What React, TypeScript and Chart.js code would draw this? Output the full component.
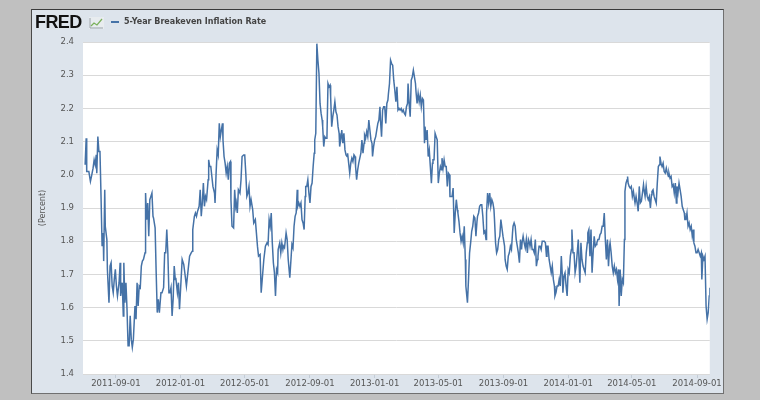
import React, { useEffect, useRef } from "react";
import { Chart, registerables } from "chart.js";

Chart.register(...registerables);

const START_DATE = "2011-07-01";
const SERIES_LABEL = "5-Year Breakeven Inflation Rate";
const Y_TITLE = "(Percent)";
const xTickLabels = [
  "2011-09-01", "2012-01-01", "2012-05-01", "2012-09-01", "2013-01-01",
  "2013-05-01", "2013-09-01", "2014-01-01", "2014-05-01", "2014-09-01",
];
const yMin = 1.4;
const yMax = 2.4;
const yStep = 0.1;

// days since START_DATE
const dayOffsets = [
  4, 6, 7, 11, 14, 16, 19, 21, 23, 25,
  26, 28, 30, 32, 34, 36, 38, 39, 41, 42,
  45, 46, 49, 51, 53, 55, 57, 59, 61, 63,
  65, 68, 70, 71, 74, 76, 77, 79, 81, 83,
  85, 87, 89, 91, 93, 95, 98, 100, 102, 104,
  106, 108, 110, 112, 114, 117, 118, 120, 122, 124,
  126, 128, 130, 132, 133, 136, 138, 140, 142, 144,
  147, 149, 152, 154, 156, 158, 160, 162, 164, 166,
  168, 170, 172, 174, 175, 178, 180, 182, 187, 190,
  192,
  195, 199, 201, 204, 206, 207, 210, 212, 214, 216,
  217, 219, 221, 223, 225, 227, 229, 231, 233, 236,
  237, 239, 241, 243, 245, 248, 249, 251, 253, 255,
  257, 259, 261, 263, 264, 266, 268, 270, 272, 274,
  276, 278, 279, 281, 284, 286, 288, 289, 291, 293,
  296, 298, 300, 303, 305, 307, 309, 311, 313, 315,
  317, 320, 322, 325, 327, 329, 331, 334, 336, 339,
  341, 344, 347, 349, 351, 353, 355, 357, 359, 361,
  363, 365, 367, 368, 371, 373, 375, 377, 378, 380,
  383, 385, 387, 390,
  394, 396, 398, 400, 402, 404, 405, 407, 409, 411,
  413, 415, 417, 419, 420, 422, 424, 426, 428, 430,
  432, 434, 436, 437, 439, 441, 443, 445, 447, 449,
  451, 452, 454, 456, 458, 460, 462, 464, 466, 467,
  469, 471, 473, 475, 477, 479, 481, 483, 484, 486,
  488, 490, 492, 494, 496, 498, 499, 501, 503, 505,
  507, 509, 511, 513, 514, 516, 518, 520, 522, 524,
  526, 528, 530, 531, 533, 535, 537, 539, 541, 543,
  545, 546, 548, 550, 552, 554, 556, 558, 560, 561,
  563, 565, 567, 569, 571, 573, 575, 576, 578, 580,
  582, 584, 586, 588,
  590, 592, 594, 596, 598, 600, 602, 604, 606, 608,
  610, 612, 613, 615, 617, 619, 621, 623, 625, 627,
  628, 630, 632, 634, 636, 638, 640, 642, 644, 645,
  647, 649, 651, 653, 655, 657, 659, 660, 662, 664,
  666, 668, 670, 672, 674, 676, 677, 679, 681, 683,
  685, 687, 689, 691, 692, 694, 696, 698, 700, 702,
  704, 706, 707, 709, 711, 713, 715, 717, 719, 721,
  722, 725, 727, 729, 731, 733, 735, 737, 739, 741,
  743, 744, 746, 748, 750, 752, 754, 756, 758, 760,
  761, 763, 765, 767, 769, 771, 773, 775, 776, 778,
  780, 782, 784, 786,
  788, 792, 795, 796, 798, 800, 802, 804, 806, 808,
  810, 811, 813, 815, 817, 819, 821, 823, 825, 827,
  828, 830, 832, 834, 836, 838, 840, 842, 843, 845,
  847, 849, 851, 853, 855, 857, 858, 860, 862, 864,
  866, 868, 870, 872, 874, 875, 877, 879, 881, 883,
  885, 887, 889, 890, 892, 894, 896, 898, 900, 902,
  904, 905, 907, 909, 911, 913, 915, 917, 919, 921,
  922, 924, 926, 928, 930, 932, 934, 936, 937, 939,
  941, 943, 945, 947, 949, 951, 952, 954, 956, 958,
  960, 962, 964, 966, 968, 969, 971, 973, 975, 977,
  979, 981, 983,
  985, 987, 989, 991, 993, 994, 996, 998, 1000, 1002,
  1004, 1006, 1008, 1010, 1011, 1013, 1015, 1017, 1019, 1021,
  1022, 1024, 1026, 1027, 1028, 1030, 1032, 1034, 1036, 1038,
  1040, 1041, 1043, 1045, 1047, 1049, 1051, 1053, 1055, 1057,
  1058, 1060, 1062, 1064, 1066, 1068, 1070, 1072, 1073, 1075,
  1077, 1079, 1081, 1083, 1085, 1087, 1088, 1090, 1092, 1094,
  1096, 1098, 1100, 1102, 1104, 1105, 1107, 1109, 1111, 1113,
  1115, 1117, 1119, 1120, 1122, 1124, 1126, 1128, 1130, 1132,
  1134, 1135, 1137, 1139, 1141, 1143, 1145, 1147, 1149, 1151,
  1152, 1154, 1156, 1158, 1160, 1162, 1164, 1166, 1167, 1169,
  1171, 1173, 1175, 1177, 1179, 1181, 1182,
];

// percent
const values = [
  2.03, 2.11, 2.01, 2.01, 1.98, 1.995, 2.02, 2.045, 2.03, 2.06,
  2.005, 2.115, 2.07, 2.07, 1.935, 1.785, 1.825, 1.74, 1.955, 1.845,
  1.805, 1.715, 1.615, 1.725, 1.735, 1.665, 1.645, 1.685, 1.715, 1.665,
  1.635, 1.675, 1.735, 1.635, 1.675, 1.575, 1.735, 1.615, 1.675, 1.595,
  1.485, 1.485, 1.575, 1.505, 1.48, 1.505, 1.605, 1.565, 1.675, 1.605,
  1.665, 1.66, 1.725, 1.74, 1.745, 1.765, 1.945, 1.865, 1.915, 1.815,
  1.925, 1.935, 1.945, 1.875, 1.87, 1.84, 1.705, 1.585, 1.625, 1.585,
  1.645, 1.645, 1.66, 1.765, 1.765, 1.835, 1.765, 1.645, 1.645, 1.66,
  1.575, 1.625, 1.725, 1.685, 1.69, 1.645, 1.675, 1.595, 1.745, 1.73,
  1.705,
  1.665, 1.725, 1.755, 1.765, 1.77, 1.835, 1.875, 1.885, 1.875, 1.89,
  1.895, 1.905, 1.955, 1.875, 1.915, 1.975, 1.905, 1.935, 1.925, 1.985,
  2.045, 2.025, 2.025, 1.995, 1.965, 1.945, 1.915, 2.005, 2.075, 2.06,
  2.155, 2.115, 2.135, 2.155, 2.105, 2.055, 2.035, 2.005, 2.025, 1.985,
  2.035, 2.04, 1.925, 1.845, 1.84, 1.955, 1.905, 1.915, 1.885, 1.955,
  1.945, 1.985, 2.055, 2.06, 2.06, 2.005, 1.935, 1.945, 1.965, 1.905,
  1.925, 1.895, 1.855, 1.865, 1.825, 1.785, 1.755, 1.76, 1.645, 1.705,
  1.745, 1.785, 1.795, 1.79, 1.865, 1.845, 1.885, 1.795, 1.735, 1.705,
  1.635, 1.715, 1.705, 1.775, 1.795, 1.765, 1.795, 1.775, 1.785, 1.78,
  1.825, 1.805, 1.745, 1.69,
  1.79, 1.78, 1.845, 1.875, 1.885, 1.955, 1.905, 1.915, 1.905, 1.915,
  1.865, 1.855, 1.835, 1.935, 1.965, 1.965, 1.985, 1.945, 1.915, 1.965,
  1.975, 2.025, 2.065, 2.105, 2.125, 2.395, 2.345, 2.305, 2.215, 2.185,
  2.165, 2.145, 2.085, 2.115, 2.11, 2.11, 2.275, 2.265, 2.27, 2.235,
  2.145, 2.175, 2.195, 2.22, 2.19, 2.18, 2.145, 2.125, 2.085, 2.105,
  2.135, 2.095, 2.125, 2.075, 2.06, 2.055, 2.065, 2.035, 2.005, 2.035,
  2.05, 2.04, 2.06, 2.055, 2.025, 1.985, 2.015, 2.035, 2.05, 2.065,
  2.105, 2.065, 2.095, 2.12, 2.11, 2.13, 2.115, 2.165, 2.135, 2.105,
  2.095, 2.055, 2.085, 2.105, 2.115, 2.135, 2.155, 2.165, 2.205, 2.165,
  2.115, 2.195, 2.205, 2.205, 2.155, 2.215, 2.225, 2.245, 2.275, 2.345,
  2.335, 2.33, 2.285, 2.255,
  2.22, 2.265, 2.195, 2.2, 2.195, 2.2, 2.19, 2.195, 2.185, 2.18,
  2.205, 2.215, 2.275, 2.215, 2.175, 2.285, 2.295, 2.315, 2.295, 2.275,
  2.25, 2.215, 2.245, 2.22, 2.24, 2.205, 2.23, 2.225, 2.095, 2.145,
  2.105, 2.135, 2.055, 2.075, 2.025, 1.975, 2.035, 2.045, 2.045, 2.125,
  2.115, 2.105, 1.975, 2.005, 2.025, 2.015, 2.05, 2.02, 2.045, 2.025,
  2.025, 1.965, 2.005, 2.0, 1.935, 1.935, 1.935, 1.96, 1.825, 1.885,
  1.925, 1.895, 1.885, 1.86, 1.825, 1.8, 1.815, 1.795, 1.845, 1.745,
  1.665, 1.615, 1.685, 1.765, 1.795, 1.83, 1.845, 1.875, 1.87, 1.815,
  1.86, 1.875, 1.885, 1.905, 1.91, 1.91, 1.875, 1.825, 1.83, 1.805,
  1.885, 1.945, 1.915, 1.945, 1.905, 1.925, 1.915, 1.895, 1.865, 1.795,
  1.765, 1.775, 1.805, 1.815,
  1.865, 1.815, 1.785, 1.745, 1.725, 1.715, 1.755, 1.765, 1.785, 1.775,
  1.825, 1.845, 1.855, 1.845, 1.805, 1.785, 1.765, 1.735, 1.805, 1.775,
  1.795, 1.815, 1.795, 1.78, 1.805, 1.765, 1.805, 1.795, 1.785, 1.805,
  1.775, 1.775, 1.765, 1.805, 1.725, 1.745, 1.755, 1.785, 1.785, 1.775,
  1.8, 1.8, 1.8, 1.795, 1.755, 1.785, 1.785, 1.745, 1.725, 1.705,
  1.725, 1.685, 1.665, 1.635, 1.645, 1.665, 1.665, 1.685, 1.665, 1.755,
  1.695, 1.645, 1.695, 1.705, 1.665, 1.635, 1.715, 1.705, 1.755, 1.775,
  1.835, 1.765, 1.765, 1.705, 1.725, 1.765, 1.805, 1.715, 1.675, 1.795,
  1.745, 1.725, 1.715, 1.705, 1.765, 1.795, 1.825, 1.835, 1.755, 1.835,
  1.705, 1.765, 1.815, 1.785, 1.79, 1.795, 1.805, 1.805, 1.82, 1.825,
  1.845, 1.845, 1.885,
  1.805, 1.745, 1.805, 1.725, 1.785, 1.795, 1.765, 1.725, 1.705, 1.725,
  1.705, 1.715, 1.685, 1.715, 1.605, 1.715, 1.635, 1.685, 1.675, 1.805,
  1.95, 1.975, 1.985, 1.995, 1.975, 1.965, 1.96, 1.965, 1.935, 1.95,
  1.925, 1.915, 1.935, 1.915, 1.89, 1.965, 1.915, 1.92, 1.945, 1.97,
  1.955, 1.935, 1.965, 1.935, 1.925, 1.935, 1.9, 1.94, 1.95, 1.955,
  1.935, 1.925, 1.915, 1.975, 2.025, 2.03, 2.055, 2.035, 2.025, 2.035,
  2.01, 2.005, 2.02, 2.005, 1.995, 2.005, 1.99, 1.995, 1.965, 1.97,
  1.945, 1.975, 1.915, 1.965, 1.945, 1.975, 1.955, 1.935, 1.905, 1.895,
  1.885, 1.865, 1.865, 1.885, 1.845, 1.855, 1.835, 1.845, 1.815, 1.835,
  1.795, 1.785, 1.765, 1.765, 1.775, 1.765, 1.755, 1.765, 1.685, 1.755,
  1.745, 1.755, 1.605, 1.565, 1.585, 1.635, 1.66,
];

const DAY_MS = 86400000;
const dayOf = (iso: string) =>
  Math.round((Date.parse(iso) - Date.parse(START_DATE)) / DAY_MS);

const plotBackground = {
  id: "plotBackground",
  beforeDraw(chart: any) {
    const { ctx, chartArea: a } = chart;
    ctx.save();
    ctx.fillStyle = "#ffffff";
    ctx.fillRect(a.left, a.top, a.right - a.left, a.bottom - a.top);
    ctx.restore();
  },
};

const TICK_FONT = { family: "'DejaVu Sans', Verdana, sans-serif", size: 8.5 };

export default function App() {
  const canvasRef = useRef<HTMLCanvasElement>(null);

  useEffect(() => {
    const n = Math.min(dayOffsets.length, values.length);
    const points: { x: number; y: number }[] = [];
    for (let i = 0; i < n; i++) points.push({ x: dayOffsets[i], y: values[i] });
    const tickDays = xTickLabels.map(dayOf);

    const chart = new Chart(canvasRef.current as HTMLCanvasElement, {
      type: "line",
      data: {
        datasets: [
          {
            label: SERIES_LABEL,
            data: points,
            borderColor: "#4572A7",
            borderWidth: 1.5,
            pointRadius: 0,
            tension: 0,
            fill: false,
          },
        ],
      },
      options: {
        animation: false,
        responsive: false,
        devicePixelRatio: 1,
        parsing: false as any,
        layout: { padding: { top: 32, right: 12, left: 0, bottom: 0 } },
        plugins: { legend: { display: false }, tooltip: { enabled: false } },
        scales: {
          x: {
            type: "linear",
            min: 0,
            max: dayOffsets[n - 1],
            afterBuildTicks: (s: any) => {
              s.ticks = tickDays.map((v) => ({ value: v }));
            },
            afterFit: (s: any) => {
              s.height = 19;
            },
            grid: {
              drawOnChartArea: false,
              drawTicks: true,
              tickLength: 4,
              color: "#c3ccd6",
            },
            border: { display: false },
            ticks: {
              autoSkip: false,
              maxRotation: 0,
              padding: 1,
              color: "#555555",
              font: TICK_FONT,
              callback: (v: any) => {
                const i = tickDays.indexOf(Number(v));
                return i >= 0 ? xTickLabels[i] : "";
              },
            },
          },
          y: {
            min: yMin,
            max: yMax,
            afterFit: (s: any) => {
              s.width = 51;
            },
            grid: { color: "#d9d9d9", drawTicks: false, lineWidth: 1 },
            border: { display: false },
            ticks: {
              stepSize: yStep,
              padding: 9,
              color: "#555555",
              font: TICK_FONT,
              callback: (v: any) => Number(v).toFixed(1),
            },
            title: {
              display: true,
              text: Y_TITLE,
              color: "#555555",
              font: { family: "'DejaVu Sans', Verdana, sans-serif", size: 8 },
              padding: { top: 6, bottom: 0 },
            },
          },
        },
      },
      plugins: [plotBackground],
    } as any);

    return () => chart.destroy();
  }, []);

  return (
    <div
      style={{
        position: "absolute",
        left: 0,
        top: 0,
        width: 760,
        height: 400,
        background: "#c0c0c0",
        overflow: "hidden",
      }}
    >
      <div
        style={{
          position: "absolute",
          left: 31,
          top: 9,
          width: 693,
          height: 385,
          boxSizing: "border-box",
          background: "#dde4ec",
          border: "1px solid #707070",
          borderTopColor: "#3a3a3a",
          borderLeftColor: "#4a4a4a",
        }}
      >
        <canvas
          ref={canvasRef}
          width={691}
          height={383}
          style={{ position: "absolute", left: 0, top: 0, width: 691, height: 383 }}
        />
        <span
          style={{
            position: "absolute",
            left: 3,
            top: 3,
            fontFamily: "'Liberation Sans', Arial, sans-serif",
            fontWeight: 900,
            fontSize: 18,
            lineHeight: "18px",
            letterSpacing: -0.6,
            color: "#111111",
          }}
        >
          FRED
        </span>
        <svg
          width={15}
          height={12}
          style={{ position: "absolute", left: 57, top: 7 }}
        >
          <rect x={0} y={0} width={15} height={12} fill="#e8ecef" />
          <path d="M1 11 L14 11 M1 1 L1 11" stroke="#9aa3aa" strokeWidth={1} />
          <path d="M2 9 L5 6 L8 8 L13 2" stroke="#7ab05a" strokeWidth={1.2} fill="none" />
        </svg>
        <div
          style={{
            position: "absolute",
            left: 79,
            top: 11,
            width: 8,
            height: 2,
            background: "#4572A7",
          }}
        />
        <span
          style={{
            position: "absolute",
            left: 92,
            top: 7,
            fontFamily: "'DejaVu Sans', Verdana, sans-serif",
            fontWeight: "bold",
            fontSize: 8,
            lineHeight: "10px",
            color: "#444444",
            whiteSpace: "nowrap",
          }}
        >
          {SERIES_LABEL}
        </span>
      </div>
    </div>
  );
}
